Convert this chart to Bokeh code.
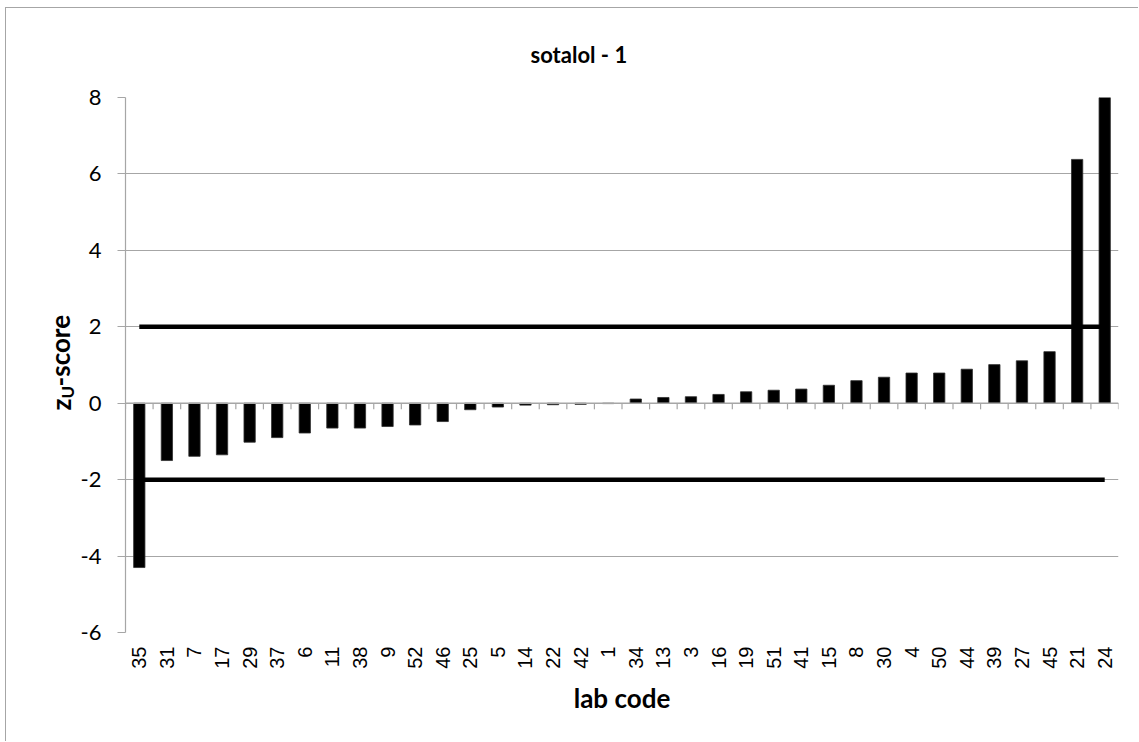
import numpy as np
from bokeh.plotting import figure
from bokeh.models import FactorRange, FixedTicker, Label, ColumnDataSource, Span
from bokeh.embed import file_html
from bokeh.resources import INLINE

# ---- data ----
lab_codes = ["35", "31", "7", "17", "29", "37", "6", "11", "38", "9", "52", "46",
             "25", "5", "14", "22", "42", "1", "34", "13", "3", "16", "19", "51",
             "41", "15", "8", "30", "4", "50", "44", "39", "27", "45", "21", "24"]
zu_scores = [-4.30, -1.50, -1.39, -1.35, -1.02, -0.90, -0.78, -0.65, -0.65, -0.61,
             -0.57, -0.48, -0.17, -0.10, -0.05, -0.04, -0.03, -0.01, 0.11, 0.15,
             0.17, 0.23, 0.30, 0.34, 0.37, 0.47, 0.59, 0.68, 0.79, 0.79, 0.89,
             1.01, 1.11, 1.35, 6.38, 8.00]
upper_limit = 2
lower_limit = -2
y_ticks = [-6, -4, -2, 0, 2, 4, 6, 8]
title_text = "sotalol - 1"
x_title = "lab code"
y_title_main = "z"
y_title_sub = "U"
y_title_rest = "-score"

GRID = "#a6a6a6"
TITLE_FONT = "Lato"
TICK_FONT = "Liberation Sans"

p = figure(width=1133, height=734, output_backend="svg", toolbar_location=None,
           x_range=FactorRange(factors=lab_codes, range_padding=0),
           y_range=(y_ticks[0], y_ticks[-1]),
           min_border_left=119, min_border_right=20, min_border_top=89, min_border_bottom=110)
p.styles = {"border-left": "1px solid #a6a6a6", "border-top": "1px solid #a6a6a6",
            "margin-left": "5px", "margin-top": "7px"}
p.outline_line_color = None
p.background_fill_color = "white"
p.border_fill_color = "white"

# title
p.title.text = title_text
p.title.align = "left"
p.title.offset = 405
p.title.standoff = 60
p.title.text_font = TITLE_FONT
p.title.text_font_style = "bold"
p.title.text_font_size = "22px"
p.title.text_color = "black"

# grid
p.xgrid.grid_line_color = None
p.ygrid.grid_line_color = GRID
p.ygrid.grid_line_width = 1.2

# y axis
p.yaxis.ticker = FixedTicker(ticks=y_ticks)
p.yaxis.major_label_overrides = {t: str(t) for t in y_ticks}
p.yaxis.axis_line_color = GRID
p.yaxis.axis_line_width = 1.2
p.yaxis.major_tick_line_color = GRID
p.yaxis.major_tick_out = 8
p.yaxis.major_tick_in = 0
p.yaxis.minor_tick_line_color = None
p.yaxis.major_label_text_font = TITLE_FONT
p.yaxis.major_label_text_font_size = "22px"
p.yaxis.major_label_text_color = "black"
p.yaxis.major_label_standoff = 16

# x axis (labels at bottom only)
p.xaxis.axis_line_color = None
p.xaxis.major_tick_line_color = None
p.xaxis.minor_tick_line_color = None
p.xaxis.major_label_orientation = np.pi / 2
p.xaxis.major_label_text_font = TICK_FONT
p.xaxis.major_label_text_font_size = "20px"
p.xaxis.major_label_text_color = "black"
p.xaxis.major_label_standoff = 8
p.xaxis.axis_label = x_title
p.xaxis.axis_label_text_font = TITLE_FONT
p.xaxis.axis_label_text_font_style = "bold"
p.xaxis.axis_label_text_font_size = "26px"
p.xaxis.axis_label_text_color = "black"
p.xaxis.axis_label_standoff = 10

# zero axis line with category tick marks
p.add_layout(Span(location=0, dimension="width", line_color=GRID, line_width=1.5))
n = len(lab_codes)
bounds = np.arange(n + 1)
p.segment(x0=bounds, x1=bounds, y0=np.zeros(n + 1), y1=np.full(n + 1, -0.16),
          line_color=GRID, line_width=1.2)

# bars
src = ColumnDataSource(dict(lab=lab_codes, z=zu_scores))
p.vbar(x="lab", top="z", bottom=0, width=0.41, source=src,
       fill_color="black", line_color="#303030", line_width=0.8)

# limit lines
p.line(x=[lab_codes[0], lab_codes[-1]], y=[upper_limit, upper_limit], line_color="black", line_width=4.5)
p.line(x=[lab_codes[0], lab_codes[-1]], y=[lower_limit, lower_limit], line_color="black", line_width=4.5)

# y title: z + subscript U + "-score", rotated; placed in side panels (not clipped)
ang = np.pi / 2
common = dict(x_units="screen", y_units="screen", angle=ang, text_align="left",
              text_baseline="alphabetic", text_font=TITLE_FONT, text_font_style="bold",
              text_color="black")
p.add_layout(Label(x=15, y=222, text=y_title_main, text_font_size="26px", **common), "left")
p.add_layout(Label(x=46, y=246, text=y_title_rest, text_font_size="26px", **common), "left")
p.add_layout(Label(x=-1051, y=234, text=y_title_sub, text_font_size="17px", **common), "right")

open("out.html", "w").write(file_html(p, INLINE))
